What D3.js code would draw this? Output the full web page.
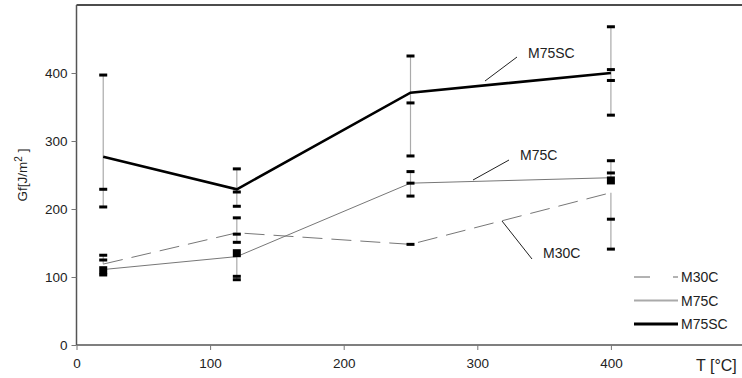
<!DOCTYPE html>
<html><head><meta charset="utf-8">
<script src="https://cdn.jsdelivr.net/npm/d3@7/dist/d3.min.js"></script>
<style>body{margin:0;background:#fff}svg{display:block}text{font-family:"Liberation Sans",Arial,sans-serif}</style>
</head><body><svg id="c" width="742" height="378"></svg>
<script>
const temps = [20, 120, 250, 400];
const m30c = [119, 165, 148, 224];
const m75c = [111, 130, 238, 246];
const m75sc = [277, 229, 371, 400];
// error-bar ranges [lo, hi] and cap positions per temperature
const m75scBars = [[203, 397], [204, 259], [278, 425], [338, 468]];
const m75scCaps = [[397, 229, 203], [259, 225, 204], [425, 356, 278], [468, 405, 389, 338]];
const m75cBars = [[103, 111], [96, 135], [219, 255], [241, 271]];
const m75cCaps = [[103], [101, 96], [255, 238, 219], [271, 253]];
const m75cMarks = [110, 135, null, 242];
const m30cBars = [[119, 132], [151, 187], [148, 148], [141, 224]];
const m30cCaps = [[132, 125], [187, 163, 151], [148], [185, 141]];
const xTicks = [0, 100, 200, 300, 400];
const yTicks = [0, 100, 200, 300, 400];
const seriesNames = ["M30C", "M75C", "M75SC"];

const svg = d3.select("#c");
const x = d3.scaleLinear().domain([0, 500]).range([76.5, 744.5]);
const y = d3.scaleLinear().domain([0, 500]).range([345, 5]);

// top border
svg.append("line").attr("x1", x(0)).attr("x2", 742).attr("y1", y(500)).attr("y2", y(500))
  .attr("stroke", "#111").attr("stroke-width", 1.5);

const xAxis = svg.append("g").attr("transform", `translate(0,${y(0)})`)
  .call(d3.axisBottom(x).tickValues(xTicks).tickSize(5).tickPadding(8).tickSizeOuter(0));
xAxis.select(".domain").attr("d", `M${x(0)},0H742`).attr("stroke", "#555").attr("stroke-width", 1.5);
const yAxis = svg.append("g").attr("transform", `translate(${x(0)},0)`)
  .call(d3.axisLeft(y).tickValues(yTicks).tickSize(5).tickPadding(4).tickSizeOuter(0));
yAxis.select(".domain").attr("d", `M0,${y(500)}V${y(0)}`).attr("stroke", "#555").attr("stroke-width", 1.5);
[xAxis, yAxis].forEach(a => {
  a.selectAll(".tick line").attr("stroke", "#777");
  a.selectAll(".tick text").attr("font-size", 13.5).attr("fill", "#222")
    .style("font-family", '"Liberation Sans",Arial,sans-serif');
});

// error bar vertical lines
const allBars = [m75scBars, m75cBars, m30cBars];
allBars.forEach(bars => {
  svg.append("g").selectAll("line").data(bars).join("line")
    .attr("x1", (d, i) => x(temps[i])).attr("x2", (d, i) => x(temps[i]))
    .attr("y1", d => y(d[0])).attr("y2", d => y(d[1]))
    .attr("stroke", "#aaa").attr("stroke-width", 1.2);
});

const line = d3.line().x((d, i) => x(temps[i])).y(d => y(d));
svg.append("path").datum(m30c).attr("d", line).attr("fill", "none")
  .attr("stroke", "#777").attr("stroke-width", 1).attr("stroke-dasharray", "20,9");
svg.append("path").datum(m75c).attr("d", line).attr("fill", "none")
  .attr("stroke", "#777").attr("stroke-width", 1);
svg.append("path").datum(m75sc).attr("d", line).attr("fill", "none")
  .attr("stroke", "#000").attr("stroke-width", 2.6);

// caps
[m75scCaps, m75cCaps, m30cCaps].forEach(caps => {
  caps.forEach((cs, i) => {
    svg.append("g").selectAll("rect").data(cs).join("rect")
      .attr("x", x(temps[i]) - 4).attr("y", d => y(d) - 1.5)
      .attr("width", 8).attr("height", 3).attr("fill", "#000");
  });
});
// big markers
svg.append("g").selectAll("rect").data(m75cMarks.map((v, i) => [v, i]).filter(d => d[0] !== null)).join("rect")
  .attr("x", d => x(temps[d[1]]) - 4).attr("y", d => y(d[0]) - 4)
  .attr("width", 8).attr("height", 8).attr("fill", "#000");

// annotations
const ann = [
  {t: "M75SC", tx: 528, ty: 58, l: [[485, 81], [517, 57]]},
  {t: "M75C", tx: 520, ty: 160, l: [[473, 180], [509, 160]]},
  {t: "M30C", tx: 543, ty: 258, l: [[502, 221], [532, 259]]}
];
ann.forEach(a => {
  svg.append("line").attr("x1", a.l[0][0]).attr("y1", a.l[0][1]).attr("x2", a.l[1][0]).attr("y2", a.l[1][1])
    .attr("stroke", "#222").attr("stroke-width", 1);
  svg.append("text").attr("x", a.tx).attr("y", a.ty).attr("font-size", 14).attr("fill", "#222").text(a.t);
});

// legend
const leg = svg.append("g");
const legStyles = [
  {stroke: "#666", w: 1, dash: "16,23,4,0"},
  {stroke: "#aaa", w: 2, dash: null},
  {stroke: "#000", w: 3, dash: null}
];
seriesNames.forEach((n, i) => {
  const yy = 277 + i * 23.5;
  const s = legStyles[i];
  const ln = leg.append("line").attr("x1", 634).attr("x2", 678).attr("y1", yy).attr("y2", yy)
    .attr("stroke", s.stroke).attr("stroke-width", s.w);
  if (s.dash) ln.attr("stroke-dasharray", s.dash);
  leg.append("text").attr("x", 681).attr("y", yy + 5).attr("font-size", 14).attr("fill", "#222").text(n);
});

// axis titles
svg.append("text").attr("x", 696).attr("y", 371).attr("font-size", 16).attr("fill", "#222").text("T [°C]");
const yt = svg.append("text").attr("transform", "translate(27,175) rotate(-90)")
  .attr("text-anchor", "middle").attr("font-size", 13.5).attr("fill", "#222");
yt.append("tspan").text("Gf[J/m");
yt.append("tspan").attr("dy", -5).attr("font-size", 10).text("2");
yt.append("tspan").attr("dy", 5).text(" ]");
</script></body></html>
